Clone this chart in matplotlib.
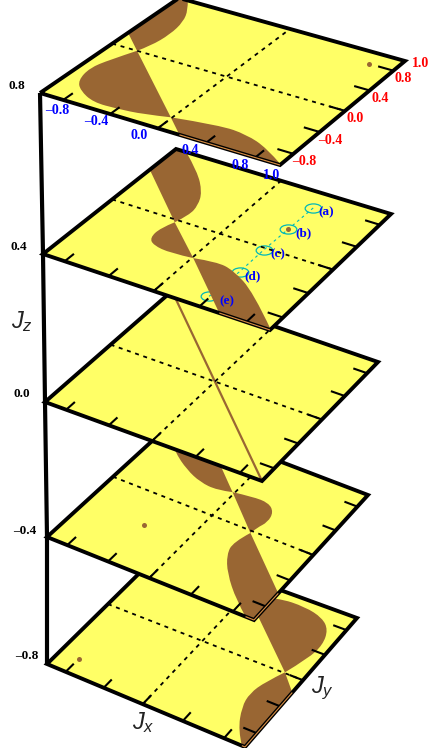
import numpy as np, matplotlib
matplotlib.use('Agg')
import matplotlib.pyplot as plt
from matplotlib.path import Path
from matplotlib.patches import PathPatch, Polygon
from matplotlib.transforms import Transform, Affine2D

plt.rcParams['mathtext.fontset'] = 'custom'
plt.rcParams['mathtext.it'] = 'Liberation Sans:italic'
plt.rcParams['mathtext.rm'] = 'Liberation Sans'

YELLOW, BROWN = '#FFFF66', '#996633'
SERIF = 'Liberation Serif'

jz_levels = [-0.8, -0.4, 0.0, 0.4, 0.8]
jz_labels = ['\u20130.8', '\u20130.4', '0.0', '0.4', '0.8']
tick_values = [-0.8, -0.4, 0.0, 0.4, 0.8]
jx_tick_labels = ['\u20130.8', '\u20130.4', '0.0', '0.4', '0.8', '1.0']
jy_tick_labels = ['\u20130.8', '\u20130.4', '0.0', '0.4', '0.8', '1.0']

# Page position of each Jz plane: corners (-1,-1), (1,-1), (1,1), (-1,1)
plane_corners = {
    0.8: [(40, 93), (280, 165), (405, 61), (179, -2)],
    0.4: [(43, 254), (270, 330), (391, 214), (176, 149)],
    0.0: [(45, 402), (262, 481), (378, 362), (172, 291)],
    -0.4: [(47, 537), (254, 620), (368, 495), (174, 421)],
    -0.8: [(47, 664), (245, 747), (357, 618), (165, 548)],
}

# Brown regions: curved boundary (cx, cy), then straight closing points (sx, sy)
p08a_cx = [-0.92, -0.83, -0.75, -0.72, -0.74, -0.78]
p08a_cy = [1.00, 0.85, 0.64, 0.39, 0.13, 0.00]
p08a_sx = [-1.00, -1.00]
p08a_sy = [0.23, 1.00]
p08b_cx = [-0.78, -0.87, -0.92, -0.88, -0.78, -0.60, -0.40, -0.20, -0.01]
p08b_cy = [0.00, -0.25, -0.45, -0.67, -0.80, -0.91, -0.90, -0.87, -0.80]
p08c_cx = [-0.01, 0.35, 0.58, 0.80, 1.00]
p08c_cy = [-0.80, -0.71, -0.73, -0.83, -0.99]
p08c_sx = [1.00, 0.18]
p08c_sy = [-1.00, -1.00]

p04a_cx = [-0.90, -0.65, -0.45, -0.37, -0.35, -0.39]
p04a_cy = [1.00, 0.76, 0.49, 0.29, 0.12, -0.04]
p04a_sx = [-1.00, -1.00]
p04a_sy = [0.58, 1.00]
p04b_cx = [-0.39, -0.44, -0.43, -0.35, -0.18, 0.01]
p04b_cy = [-0.04, -0.18, -0.35, -0.43, -0.46, -0.43]
p04c_cx = [0.01, 0.19, 0.36, 0.64, 1.00]
p04c_cy = [-0.43, -0.38, -0.42, -0.61, -0.99]
p04c_sx = [1.00, 0.57]
p04c_sy = [-1.00, -1.00]

p00_x = [-1.0, 1.0]
p00_y = [1.0, -1.0]

m04a_cx = [-0.99, -0.74, -0.52, -0.33, -0.15, -0.02]
m04a_cy = [0.84, 0.60, 0.44, 0.35, 0.33, 0.38]
m04a_sx = [-0.28, -0.67, -1.00]
m04a_sy = [0.63, 1.00, 1.00]
m04b_cx = [-0.02, 0.16, 0.32, 0.42, 0.45, 0.41, 0.40]
m04b_cy = [0.38, 0.42, 0.42, 0.33, 0.18, 0.06, -0.03]
m04c_cx = [0.40, 0.34, 0.38, 0.51, 0.75, 0.92]
m04c_cy = [-0.03, -0.22, -0.39, -0.60, -0.86, -1.00]
m04c_sx = [1.00, 1.00]
m04c_sy = [-1.00, -0.60]

m08a_cx = [0.02, 0.27, 0.54, 0.74, 0.86, 0.92, 0.90, 0.82]
m08a_cy = [0.78, 0.89, 0.90, 0.84, 0.72, 0.51, 0.28, 0.01]
m08b_cx = [0.82, 0.74, 0.70, 0.73, 0.85, 0.97]
m08b_cy = [0.01, -0.19, -0.39, -0.58, -0.85, -1.00]
m08b_sx = [1.00, 1.00]
m08b_sy = [-1.00, -0.19]

regions = {
    0.8: [(p08a_cx, p08a_cy, p08a_sx, p08a_sy), (p08b_cx, p08b_cy, [], []), (p08c_cx, p08c_cy, p08c_sx, p08c_sy)],
    0.4: [(p04a_cx, p04a_cy, p04a_sx, p04a_sy), (p04b_cx, p04b_cy, [], []), (p04c_cx, p04c_cy, p04c_sx, p04c_sy)],
    0.0: [],
    -0.4: [(m04a_cx, m04a_cy, m04a_sx, m04a_sy), (m04b_cx, m04b_cy, [], []), (m04c_cx, m04c_cy, m04c_sx, m04c_sy)],
    -0.8: [(m08a_cx, m08a_cy, [], []), (m08b_cx, m08b_cy, m08b_sx, m08b_sy)],
}

# Isolated specks
speck_x = {0.8: [0.79], -0.4: [-0.41], -0.8: [-0.80], 0.4: [0.42]}
speck_y = {0.8: [0.80], -0.4: [-0.43], -0.8: [-0.79], 0.4: [0.35]}

# Marked points on Jz = 0.4
mark_labels = ['(a)', '(b)', '(c)', '(d)', '(e)']
mark_jx = [0.43, 0.42, 0.41, 0.41, 0.39]
mark_jy = [0.75, 0.35, -0.03, -0.41, -0.84]

# Stretches of plane edge where the brown reaches the rim: (x0, y0, x1, y1)
rim_spans = {
    0.8: [(0.18, -1, 1, -1)],
    0.4: [(0.57, -1, 1, -1)],
    0.0: [],
    -0.4: [(1, -1, 1, -0.60), (0.92, -1, 1, -1)],
    -0.8: [(1, -1, 1, -0.19), (0.97, -1, 1, -1)],
}


def homography(c):
    src = [(-1, -1), (1, -1), (1, 1), (-1, 1)]
    A, b = [], []
    for (x, y), (u, v) in zip(src, c):
        A.append([x, y, 1, 0, 0, 0, -u * x, -u * y]); b.append(u)
        A.append([0, 0, 0, x, y, 1, -v * x, -v * y]); b.append(v)
    return np.append(np.linalg.solve(A, b), 1).reshape(3, 3)


class PlaneTransform(Transform):
    input_dims = output_dims = 2
    is_affine = False

    def __init__(self, H):
        super().__init__()
        self.H = H

    def transform_non_affine(self, xy):
        xy = np.asarray(xy, float)
        q = np.c_[xy, np.ones(len(xy))] @ self.H.T
        return q[:, :2] / q[:, 2:]


def region_path(cx, cy, sx, sy):
    pts = np.c_[cx, cy]
    verts, codes = [pts[0]], [Path.MOVETO]
    for i in range(1, len(pts) - 1):
        end = pts[i + 1] if i == len(pts) - 2 else (pts[i] + pts[i + 1]) / 2
        verts += [pts[i], end]
        codes += [Path.CURVE3, Path.CURVE3]
    if len(pts) == 2:
        verts.append(pts[1]); codes.append(Path.LINETO)
    for p in zip(sx, sy):
        verts.append(p); codes.append(Path.LINETO)
    verts.append(pts[0]); codes.append(Path.CLOSEPOLY)
    return Path(verts, codes)


fig = plt.figure(figsize=(4.4, 7.48), dpi=100)
ax = fig.add_axes([0, 0, 1, 1])
ax.set_xlim(0, 440)
ax.set_ylim(748, 0)
ax.axis('off')

# Jz axis
ax.plot([plane_corners[z][0][0] for z in jz_levels], [plane_corners[z][0][1] for z in jz_levels],
        color='k', lw=3.0, solid_capstyle='butt', zorder=1)

oval = Path.unit_circle().transformed(Affine2D().scale(1, 0.55))

for n, z in enumerate(jz_levels):
    T = PlaneTransform(homography(plane_corners[z])) + ax.transData
    base = 10 + n * 10
    sq_x, sq_y = [-1, 1, 1, -1], [-1, -1, 1, 1]
    rim = ax.fill(sq_x, sq_y, color=YELLOW, lw=0, transform=T, zorder=base)[0]

    if z == 0.4:
        ax.plot(mark_jx, mark_jy, color='#00B8B8', lw=0.8, ls=(0, (2.5, 3)), transform=T, zorder=base + 1)
        ax.plot(mark_jx, mark_jy, ls='none', marker=oval, ms=12, mfc='none', mec='#00B8B8', mew=0.9,
                transform=T, zorder=base + 1)

    for cx, cy, sx, sy in regions[z]:
        patch = PathPatch(region_path(cx, cy, sx, sy), fc=BROWN, ec='none', transform=T, zorder=base + 2)
        ax.add_patch(patch)
        patch.set_clip_path(rim.get_path(), T)

    if z == 0.0:
        ax.plot(p00_x, p00_y, color=BROWN, lw=1.6, transform=T, zorder=base + 2)

    if z in speck_x:
        ax.plot(speck_x[z], speck_y[z], ls='none', marker='o', ms=3.6, mfc=BROWN, mec='none',
                transform=T, zorder=base + 3)

    dash = (0, (2.2, 2.6))
    ax.plot([0, 0], [-1, 1], color='k', lw=1.3, ls=dash, transform=T, zorder=base + 4)
    ax.plot([-1, 1], [0, 0], color='k', lw=1.3, ls=dash, transform=T, zorder=base + 4)
    for t in tick_values:
        ax.plot([t, t], [-1, -0.87], color='k', lw=1.5, solid_capstyle='butt', transform=T, zorder=base + 4)
        ax.plot([1, 0.87], [t, t], color='k', lw=1.5, solid_capstyle='butt', transform=T, zorder=base + 4)

    ax.add_patch(Polygon(np.c_[sq_x, sq_y], closed=True, fc='none', ec='k', lw=2.8, joinstyle='miter',
                         transform=T, zorder=base + 5))
    for x0, y0, x1, y1 in rim_spans[z]:
        ax.plot([x0, x1], [y0, y1], color='#D98F45', lw=0.8, solid_capstyle='butt', transform=T, zorder=base + 6)

# Text, all above the planes
for txt, x, y in zip(jz_labels, [27, 25, 22, 19, 17], [656, 531, 394, 247, 86]):
    ax.text(x, y, txt, family=SERIF, weight='bold', fontsize=9.5, color='k', ha='center', va='center', zorder=100)
for txt, x, y in zip(jx_tick_labels, [57, 96, 139, 190, 240, 272], [110, 121, 135, 150, 165, 175]):
    ax.text(x, y, txt, family=SERIF, weight='bold', fontsize=10, color='#0000FF', ha='center', va='center', zorder=100)
for txt, x, y in zip(jy_tick_labels, [304, 330, 355, 380, 403, 421], [161, 140, 118, 98, 78, 63]):
    ax.text(x, y, txt, family=SERIF, weight='bold', fontsize=10, color='#FF0000', ha='center', va='center', zorder=100)
for txt, x, y in zip(mark_labels, [326, 303, 278, 253, 227], [212, 233, 254, 276, 301]):
    ax.text(x, y, txt, family=SERIF, weight='bold', fontsize=9.5, color='#0000FF', ha='center', va='center', zorder=100)

for txt, x, y in [('$J_z$', 22, 322), ('$J_x$', 143, 723), ('$J_y$', 322, 688)]:
    ax.text(x, y, txt, fontsize=17, color='#222222', ha='center', va='center', zorder=100)

fig.savefig('out.png', dpi=100, facecolor='white')
